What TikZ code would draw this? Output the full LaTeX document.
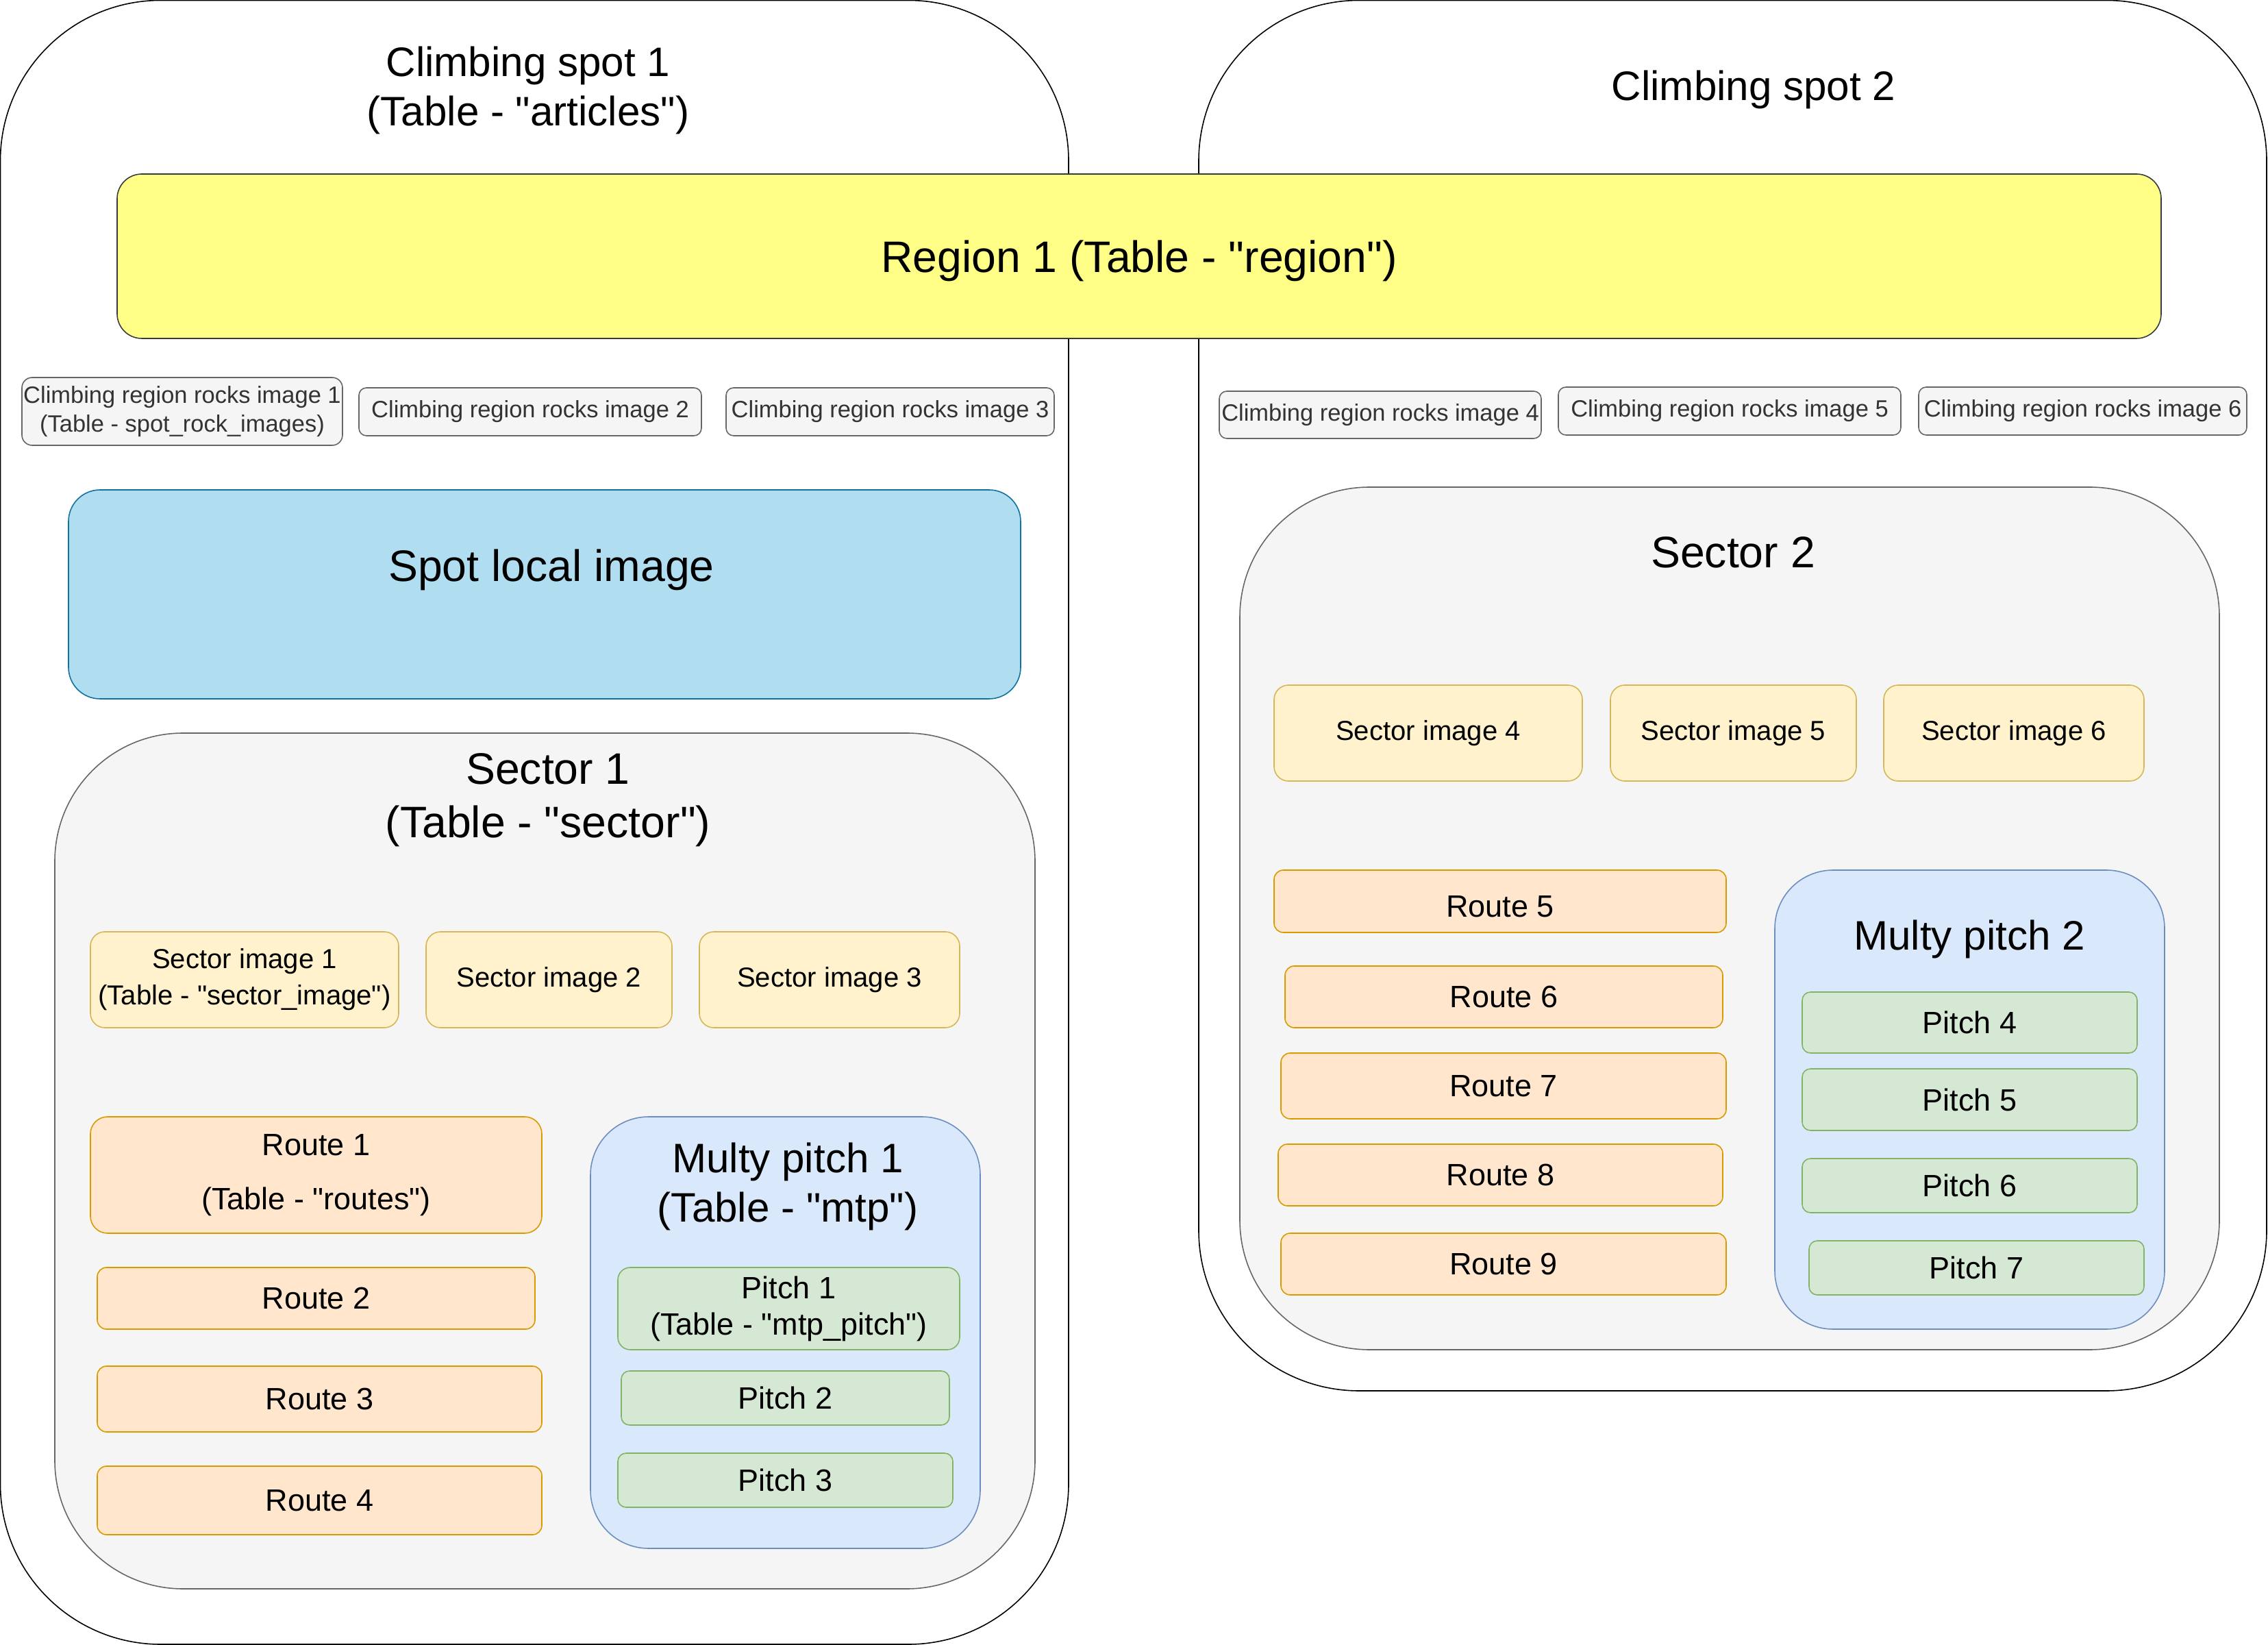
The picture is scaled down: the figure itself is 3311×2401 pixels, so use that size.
\documentclass[tikz,border=0pt]{standalone}
\usepackage{fontspec}
\setmainfont{Liberation Sans}[Ligatures=TeXOff]
\definecolor{yelfill}{HTML}{FFFF88}
\definecolor{yeldraw}{HTML}{36393D}
\definecolor{grayfill}{HTML}{F5F5F5}
\definecolor{graydraw}{HTML}{666666}
\definecolor{graytext}{HTML}{333333}
\definecolor{bluefill}{HTML}{B1DDF0}
\definecolor{bluedraw}{HTML}{10739E}
\definecolor{sifill}{HTML}{FFF2CC}
\definecolor{sidraw}{HTML}{D6B656}
\definecolor{rtfill}{HTML}{FFE6CC}
\definecolor{rtdraw}{HTML}{D79B00}
\definecolor{mpfill}{HTML}{DAE8FC}
\definecolor{mpdraw}{HTML}{6C8EBF}
\definecolor{ptfill}{HTML}{D5E8D4}
\definecolor{ptdraw}{HTML}{82B366}
\newcommand\bx[8][]{\node[#2, minimum width={(#5-#3)*0.01cm}, minimum height={(#6-#4)*0.01cm}, #1] (#7) at ({(#3+#5)/2},{(#4+#6)/2}) {#8};}
\tikzset{
  base/.style={inner sep=0pt, outer sep=0pt, line width=0.45pt, align=center},
  spotbox/.style={base, draw=black, fill=white, rounded corners=2.34cm},
  regionbox/.style={base, draw=yeldraw, fill=yelfill, rounded corners=0.36cm},
  rockbox/.style={base, draw=graydraw, fill=grayfill, text=graytext, rounded corners=0.11cm, font=\fontsize{9.8}{11.9}\selectfont},
  localbox/.style={base, draw=bluedraw, fill=bluefill, rounded corners=0.46cm},
  sectorbox/.style={base, draw=graydraw, fill=grayfill},
  sibox/.style={base, draw=sidraw, fill=sifill, rounded corners=0.21cm, font=\fontsize{11.4}{15}\selectfont},
  routebox/.style={base, draw=rtdraw, fill=rtfill, rounded corners=0.135cm, font=\fontsize{12.8}{15}\selectfont},
  mpbox/.style={base, draw=mpdraw, fill=mpfill, rounded corners=0.85cm},
  pitchbox/.style={base, draw=ptdraw, fill=ptfill, rounded corners=0.12cm, font=\fontsize{12.8}{15}\selectfont},
  medtext/.style={align=center, inner sep=0pt, font=\fontsize{12.8}{15}\selectfont},
  bigtext/.style={align=center, inner sep=0pt, font=\fontsize{17.1}{20.6}\selectfont},
  hugetext/.style={align=center, inner sep=0pt, font=\fontsize{18.3}{22.2}\selectfont},
}
\begin{document}
\begin{tikzpicture}[x=0.01cm,y=-0.01cm]
\useasboundingbox (0,0) rectangle (3311,2401);
% climbing spots
\bx{spotbox}{0.5}{0.5}{1560}{2400}{spot1}{}
\bx{spotbox}{1750}{0.5}{3309}{2030}{spot2}{}
\node[bigtext] (spot1t) at (771,132) {Climbing spot 1\\(Table - "articles")};
\node[bigtext] (spot2t) at (2560,131) {Climbing spot 2};
% region
\bx{regionbox}{171}{254}{3155}{494}{region}{}
\node[hugetext] (regiont) at (1663,381) {Region 1 (Table - "region")};
% rock images
\bx[rounded corners=0.15cm]{rockbox}{32}{551}{500}{650}{rock1}{Climbing region rocks image 1\\(Table - spot\_rock\_images)}
\bx{rockbox}{524}{566}{1024}{636}{rock2}{Climbing region rocks image 2}
\bx{rockbox}{1060}{566}{1539}{636}{rock3}{Climbing region rocks image 3}
\bx{rockbox}{1780}{571}{2250}{640}{rock4}{Climbing region rocks image 4}
\bx{rockbox}{2275}{565}{2775}{635}{rock5}{Climbing region rocks image 5}
\bx{rockbox}{2801}{565}{3280}{635}{rock6}{Climbing region rocks image 6}
% spot local image
\bx{localbox}{100}{715}{1490}{1020}{local}{}
\node[hugetext] (localt) at (805,832) {Spot local image};
% sector 1
\bx[rounded corners=1.87cm]{sectorbox}{80}{1070}{1511}{2319}{sector1}{}
\node[hugetext] (sector1t) at (800,1168) {Sector 1\\(Table - "sector")};
\bx{sibox}{132}{1360}{582}{1500}{si1}{Sector image 1\\(Table - "sector\_image")}
\bx{sibox}{622}{1360}{981}{1500}{si2}{Sector image 2}
\bx{sibox}{1021}{1360}{1401}{1500}{si3}{Sector image 3}
\bx[rounded corners=0.25cm, font=\fontsize{12.8}{22.5}\selectfont]{routebox}{132}{1630}{791}{1800}{r1}{Route 1\\(Table - "routes")}
\bx{routebox}{142}{1850}{781}{1940}{r2}{Route 2}
\bx{routebox}{142}{1994}{791}{2090}{r3}{Route 3}
\bx{routebox}{142}{2140}{791}{2240}{r4}{Route 4}
\bx{mpbox}{862}{1630}{1431}{2260}{mp1}{}
\node[bigtext] (mp1t) at (1150,1732) {Multy pitch 1\\(Table - "mtp")};
\bx[rounded corners=0.18cm]{pitchbox}{902}{1850}{1401}{1970}{p1}{Pitch 1\\(Table - "mtp\_pitch")}
\bx{pitchbox}{907}{2001}{1386}{2080}{p2}{Pitch 2}
\bx{pitchbox}{902}{2121}{1391}{2200}{p3}{Pitch 3}
% sector 2
\bx[rounded corners=1.89cm]{sectorbox}{1810}{711}{3240}{1970}{sector2}{}
\node[hugetext] (sector2t) at (2530,806) {Sector 2};
\bx{sibox}{1860}{1000}{2310}{1140}{si4}{Sector image 4}
\bx{sibox}{2351}{1000}{2710}{1140}{si5}{Sector image 5}
\bx{sibox}{2750}{1000}{3130}{1140}{si6}{Sector image 6}
\bx{routebox}{1860}{1270}{2520}{1361}{r5}{}
\node[medtext] (r5t) at (2190,1323) {Route 5};
\bx{routebox}{1876}{1410}{2515}{1500}{r6}{Route 6}
\bx{routebox}{1870}{1537}{2520}{1633}{r7}{Route 7}
\bx{routebox}{1866}{1670}{2515}{1760}{r8}{Route 8}
\bx{routebox}{1870}{1800}{2520}{1890}{r9}{Route 9}
\bx{mpbox}{2591}{1270}{3160}{1940}{mp2}{}
\node[bigtext] (mp2t) at (2875,1371) {Multy pitch 2};
\bx{pitchbox}{2631}{1448}{3120}{1537}{p4}{Pitch 4}
\bx{pitchbox}{2631}{1560}{3120}{1650}{p5}{Pitch 5}
\bx{pitchbox}{2631}{1691}{3120}{1770}{p6}{Pitch 6}
\bx{pitchbox}{2641}{1811}{3130}{1890}{p7}{Pitch 7}
\end{tikzpicture}
\end{document}
